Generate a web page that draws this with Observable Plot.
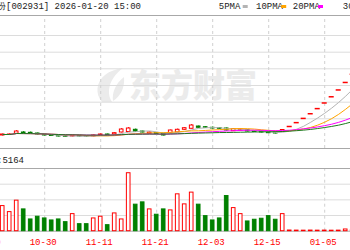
<!DOCTYPE html>
<html><head><meta charset="utf-8">
<script src="https://cdn.jsdelivr.net/npm/d3@7"></script>
<script src="https://cdn.jsdelivr.net/npm/@observablehq/plot@0.6"></script>
<style>
html,body{margin:0;padding:0;background:#fff;}
#chart{position:relative;width:350px;height:250px;overflow:hidden;background:#fff;}
#chart svg{position:absolute;left:0;}
</style></head><body><div id="chart"></div>
<script>
// ---- data ----
const dates = ["10-22","10-23","10-24","10-27","10-28","10-29","10-30","10-31","11-03","11-04","11-05","11-06","11-07","11-10","11-11","11-12","11-13","11-14","11-17","11-18","11-19","11-20","11-21","11-24","11-25","11-26","11-27","11-28","12-01","12-02","12-03","12-04","12-05","12-08","12-09","12-10","12-11","12-12","12-15","12-16","12-17","12-25","12-26","12-29","12-30","12-31","01-05","01-06","01-07","01-08","01-09"];
const open  = [14.75,15.0,15.6,16.25,16.1,15.75,15.25,14.75,14.6,14.4,14.25,14.6,14.4,14.25,14.75,15.25,15.25,16.25,16.5,17.6,16.75,15.6,16.0,15.6,15.9,16.25,17.6,18.1,19.25,18.9,18.6,18.5,18.25,16.9,17.25,17.5,17.0,16.75,16.5,16.25,16.5,19.25,21.18,23.30,25.63,28.19,31.01,34.11,37.52,41.27,45.40];
const high  = [15.5,15.6,17.25,16.75,16.5,16.0,15.5,15.0,14.75,14.75,15.0,14.75,14.5,15.0,15.5,15.5,16.25,18.25,18.75,18.0,17.0,16.5,16.25,15.75,17.5,18.0,18.75,20.25,19.5,19.25,19.0,18.75,18.5,18.25,18.0,17.75,17.25,17.0,16.75,16.5,17.75,19.25,21.18,23.30,25.63,28.19,31.01,34.11,37.52,41.27,45.40];
const low   = [14.5,14.75,15.25,15.25,15.25,15.0,14.5,14.25,14.0,13.75,14.0,14.0,13.75,14.0,14.5,14.75,15.0,16.0,16.25,16.25,16.0,15.5,15.25,14.5,15.5,16.0,17.25,18.0,18.25,18.25,18.0,17.75,17.0,16.75,17.0,16.5,16.25,16.0,15.75,15.5,16.25,19.25,21.18,23.30,25.63,28.19,31.01,34.11,37.52,41.27,45.40];
const close = [15.25,15.25,16.75,15.6,15.6,15.25,14.75,14.5,14.25,14.1,14.75,14.25,14.1,14.75,15.25,14.9,15.9,17.75,18.25,16.6,16.25,16.25,15.5,14.75,17.25,17.6,18.4,19.75,18.6,18.6,18.25,18.1,17.25,18.0,17.75,16.75,16.5,16.25,15.9,15.75,17.5,19.25,21.18,23.30,25.63,28.19,31.01,34.11,37.52,41.27,45.40];
const volume = [120200,91350,146160,104330,56250,69240,61060,51450,56250,43270,81740,33660,33660,61060,69240,28850,85100,56250,277420,126930,137990,104330,78850,104330,99530,176450,128370,184630,126930,72120,51450,61060,168280,110580,81740,46640,54810,59620,72120,54810,81740,3200,2800,2500,3000,2600,2900,2400,2700,8200,5164];

const tickIndex  = [-2, 6, 14, 22, 30, 38, 46];
const tickLabels = ["10-20","10-30","11-11","11-21","12-03","12-15","01-05"];
const priceGrid  = [64.75, 56.4, 48.1, 39.75, 31.4, 23.1];
const volGrid    = [75000, 150000, 225000];
const maPeriods  = [5, 10, 20, 30];
const maNames    = ["5PMA", "10PMA", "20PMA", "30PMA"];
const maColors   = ["#b4b4b4", "#ffa500", "#ff00ff", "#1e7b1e"];
const stockName  = "锋龙股份";
const stockCode  = "[002931] 2026-01-20 15:00";
const volLabel   = ":5164";

// ---- build ----
const RED = "#ff0000", GREEN = "#008000";
const rows = dates.map((d, i) => ({i, date: d, open: open[i], high: high[i], low: low[i], close: close[i], volume: volume[i]}));
const isUp = d => d.close >= d.open;
const hw = 0.26;
const xDomain = [-2.2 / 7, 347.8 / 7];
const priceDomain = [8.25, 74.75];
const volDomain = [0, 300000];
const labelOf = new Map(tickIndex.map((t, k) => [t, tickLabels[k]]));
const root = d3.select("#chart");

// watermark
const wm = root.append("svg").attr("width", 350).attr("height", 250).style("top", "0px");
wm.append("path").attr("transform", "translate(93,68)")
  .attr("d", "M9 34 C2 26 3 14 12 7 C17 3 23 1 30 0 C22 6 17 13 16 22 C15.5 27 17 31 19 34 Z M20 33 C19 25 22 16 31 9 C32 19 28 28 20 33 Z")
  .attr("fill", "#ebebeb");
wm.append("text").attr("x", 129).attr("y", 97).attr("font-family", "'Noto Sans CJK SC'").attr("font-weight", 900)
  .attr("font-size", 32).attr("fill", "#ebebeb").text("东方财富");

const priceSvg = Plot.plot({
  width: 350, height: 150,
  marginTop: 15, marginBottom: 2, marginLeft: 0, marginRight: 0,
  x: {domain: xDomain, axis: null},
  y: {domain: priceDomain, axis: null},
  color: {type: "identity"},
  style: {background: "transparent", top: "0px"},
  marks: [
    Plot.ruleY(priceGrid, {stroke: "#dcdcdc"}),
    Plot.ruleX(tickIndex, {y1: priceDomain[0], y2: priceDomain[1], stroke: "#d0d0d0", strokeDasharray: "3,3"}),
    Plot.ruleY([priceDomain[1]], {stroke: "#a8a8a8"}),
    Plot.ruleY([priceDomain[0]], {stroke: "#a8a8a8"}),
    Plot.ruleX(rows, {x: "i", y1: "low", y2: "high", stroke: d => isUp(d) ? RED : GREEN}),
    Plot.rect(rows.filter(d => d.open !== d.close), {x1: d => d.i - hw, x2: d => d.i + hw, y1: "open", y2: "close",
      fill: d => isUp(d) ? "#ffffff" : GREEN, stroke: d => isUp(d) ? RED : GREEN}),
    Plot.ruleY(rows.filter(d => d.open === d.close), {y: "close", x1: d => d.i - 0.36, x2: d => d.i + 0.36, stroke: RED, strokeWidth: 1.5}),
    ...maPeriods.map((k, j) => Plot.lineY(rows, Plot.windowY({k, anchor: "end", reduce: "mean"},
      {x: "i", y: "close", stroke: maColors[j], strokeWidth: 1}))),
  ]
});
root.node().append(priceSvg);

const volSvg = Plot.plot({
  width: 350, height: 102,
  marginTop: 20, marginBottom: 19.3, marginLeft: 0, marginRight: 0,
  x: {domain: xDomain, axis: null},
  y: {domain: volDomain, axis: null},
  color: {type: "identity"},
  style: {background: "transparent", top: "148px"},
  marks: [
    Plot.ruleY(volGrid, {stroke: "#dcdcdc"}),
    Plot.ruleX(tickIndex, {y1: volDomain[0], y2: volDomain[1], stroke: "#d0d0d0", strokeDasharray: "3,3"}),
    Plot.ruleY([volDomain[1]], {stroke: "#a8a8a8"}),
    Plot.ruleY([volDomain[0]], {stroke: "#a8a8a8"}),
    Plot.rect(rows, {x1: d => d.i - hw, x2: d => d.i + hw, y1: 0, y2: "volume",
      fill: d => isUp(d) ? "#ffffff" : GREEN, stroke: d => isUp(d) ? RED : GREEN}),
    Plot.text(tickIndex, {x: d => d, text: d => labelOf.get(d), frameAnchor: "bottom", lineAnchor: "bottom",
      dy: 13.3, dx: -1.5, fill: RED, fontFamily: "Liberation Mono", fontSize: 9})
  ]
});
root.node().append(volSvg);

// overlay texts (header, legend, volume label)
const ov = root.append("svg").attr("width", 350).attr("height", 250).style("top", "0px")
  .attr("font-family", "'Liberation Mono', monospace").attr("font-size", 9);
ov.append("text").attr("x", 6).attr("y", 9).attr("text-anchor", "end").attr("fill", "#222").text(stockName);
ov.append("text").attr("x", 6).attr("y", 9).attr("fill", "#222").text(stockCode);
const legX = [218.8, 256, 292.8, 342.8];
const mkX = [242.7, 281.2, 318];
maNames.forEach((n, j) => {
  ov.append("text").attr("x", legX[j]).attr("y", 9).attr("fill", "#222").text(n);
  if (j < mkX.length) ov.append("rect").attr("x", mkX[j]).attr("y", 5).attr("width", 5).attr("height", 3).attr("fill", maColors[j]);
});
ov.append("text").attr("x", -3).attr("y", 163.3).attr("fill", "#222").text(volLabel);
</script>
</body></html>
